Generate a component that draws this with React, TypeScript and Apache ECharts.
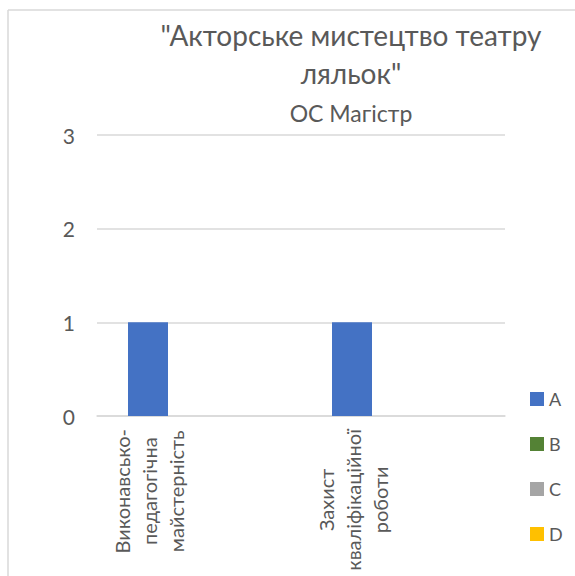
import React, { useEffect, useRef } from "react";
import * as echarts from "echarts";

const categories = ["Виконавсько-\nпедагогічна\nмайстерність", "Захист\nкваліфікаційної\nроботи"];
const seriesNames = ["A", "B", "C", "D"];
const valuesA = [1, 1];
const valuesB = [0, 0];
const valuesC = [0, 0];
const valuesD = [0, 0];
const colors = ["#4472C4", "#548235", "#A5A5A5", "#FFC000"];
const yTicks = { min: 0, max: 3, interval: 1 };

const FONT = "Lato";
const TXT = "#595959";

export default function App() {
  const ref = useRef<HTMLDivElement>(null);
  useEffect(() => {
    if (!ref.current) return;
    const chart = echarts.init(ref.current, undefined, { renderer: "svg" });
    const allValues = [valuesA, valuesB, valuesC, valuesD];
    chart.setOption({
      animation: false,
      color: colors,
      textStyle: { fontFamily: FONT },
      title: {
        text: '"Акторське мистецтво театру\nляльок"',
        subtext: "ОС Магістр",
        left: 346,
        top: 11,
        textAlign: "center",
        itemGap: 9,
        textStyle: { fontFamily: FONT, fontSize: 28, fontWeight: "normal", color: TXT, lineHeight: 38 },
        subtextStyle: { fontFamily: FONT, fontSize: 23, color: TXT },
      },
      legend: {
        orient: "vertical",
        left: 525,
        top: 385,
        itemWidth: 14,
        itemHeight: 14,
        itemGap: 27,
        icon: "rect",
        data: seriesNames,
        textStyle: { fontFamily: FONT, fontSize: 18, color: TXT },
      },
      grid: { left: 97, right: 70, top: 135, bottom: 160, containLabel: false },
      xAxis: {
        type: "category",
        data: categories,
        axisLine: { show: true, lineStyle: { color: "#D9D9D9", width: 1.5 } },
        axisTick: { show: false },
        axisLabel: {
          interval: 0,
          rotate: 90,
          align: "right",
          verticalAlign: "middle",
          margin: 13,
          padding: [0, 0, 100, 0],
          formatter: (v: string) => v.split("\n").map((s) => `{c|${s}}`).join("\n"),
          rich: { c: { align: "center", fontFamily: FONT, fontSize: 20, lineHeight: 27, color: TXT } },
        },
      },
      yAxis: {
        type: "value",
        min: yTicks.min,
        max: yTicks.max,
        interval: yTicks.interval,
        axisLine: { show: false },
        axisTick: { show: false },
        splitLine: { lineStyle: { color: "#D9D9D9", width: 1.5 } },
        axisLabel: { margin: 22, fontFamily: FONT, fontSize: 21, color: TXT },
      },
      series: seriesNames.map((name, i) => ({
        name,
        type: "bar",
        data: allValues[i],
        barWidth: 40,
        barGap: "-15%",
        itemStyle: { color: colors[i] },
      })),
      graphic: [
        { type: "line", shape: { x1: 8, y1: 10, x2: 575, y2: 10 }, style: { stroke: "#D9D9D9", lineWidth: 1.5 } },
        { type: "line", shape: { x1: 8, y1: 10, x2: 8, y2: 576 }, style: { stroke: "#D9D9D9", lineWidth: 1.5 } },
      ],
    });
    return () => chart.dispose();
  }, []);
  return <div ref={ref} style={{ position: "absolute", left: 0, top: 0, width: 575, height: 576 }} />;
}
